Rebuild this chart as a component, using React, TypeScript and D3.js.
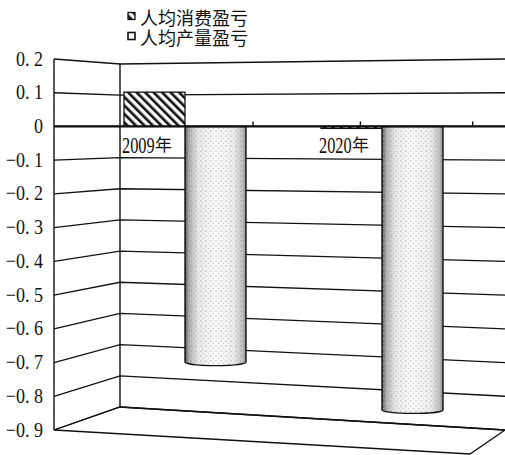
import React from "react";
import * as d3 from "d3";

const categories = ["2009", "2020"];
const seriesNames = ["人均消费盈亏", "人均产量盈亏"];
const consumption = [0.104, -0.006];
const production = [-0.715, -0.86];
const yTicks = [0.2, 0.1, 0, -0.1, -0.2, -0.3, -0.4, -0.5, -0.6, -0.7, -0.8, -0.9];
const axisTickSteps = [0.655, 1.2, 1.77];

const W = 505;
const H = 455;
const FX = 54;
const BX = 120;
const RX = 505;
const FLOOR_FRONT: [number, number] = [470, 454];

const SERIF = "Liberation Serif, Times New Roman, DejaVu Serif, serif";
const CJK = "Noto Sans CJK SC, Noto Sans CJK JP, sans-serif";

const fmt = (v: number) => {
  if (Math.abs(v) < 1e-9) return "0";
  const d = Math.round(Math.abs(v) * 10);
  return (v < 0 ? "\u2212" : "") + "0. " + d;
};

export default function App() {
  const domain = [-0.9, 0.2];
  const yFront = d3.scaleLinear().domain(domain).range([430, 59]);
  const yBack = d3.scaleLinear().domain(domain).range([407, 64]);
  const yBar = (v: number) => 0.7 * yFront(v) + 0.3 * yBack(v);
  const x = d3.scaleBand<string>().domain(categories).range([124, 518]);
  const xs = d3.scaleBand<string>().domain(seriesNames).range([0, 122]);
  const bw = xs.bandwidth();
  const y0 = yBar(0);
  const line = d3.line();

  const top = domain[1];
  const bottom = domain[0];

  const cylinder = (cx0: number, v: number) => {
    const x0 = cx0;
    const x1 = cx0 + bw;
    const rx = bw / 2;
    const ry = 3.5;
    const yb = yBar(v);
    return `M${x0},${y0} L${x0},${yb} A${rx},${ry} 0 0 0 ${x1},${yb} L${x1},${y0} Z`;
  };

  return (
    <svg
      width={W}
      height={H}
      style={{ position: "absolute", left: 0, top: 0, background: "#fff" }}
    >
      <defs>
        <pattern id="hatch" patternUnits="userSpaceOnUse" width="6" height="6" patternTransform="rotate(-45)">
          <rect width="6" height="6" fill="#fff" />
          <rect x="0" y="0" width="2.6" height="6" fill="#111" />
        </pattern>
        <pattern id="dots" patternUnits="userSpaceOnUse" width="5" height="5">
          <circle cx="1" cy="1" r="0.6" fill="#8a8a8a" />
          <circle cx="3.5" cy="3.5" r="0.5" fill="#b5b5b5" />
        </pattern>
        <linearGradient id="cyl" x1="0" x2="1" y1="0" y2="0">
          <stop offset="0" stopColor="#555" />
          <stop offset="0.07" stopColor="#b0b0b0" />
          <stop offset="0.22" stopColor="#e8e8e8" />
          <stop offset="0.5" stopColor="#fafafa" />
          <stop offset="0.8" stopColor="#ececec" />
          <stop offset="0.94" stopColor="#c0c0c0" />
          <stop offset="1" stopColor="#8a8a8a" />
        </linearGradient>
      </defs>

      {/* floor */}
      <path
        d={`M${FX},${yFront(bottom)} L${BX},${yBack(bottom)} L${RX},${yFront(bottom)} L${FLOOR_FRONT[0]},${FLOOR_FRONT[1]} Z`}
        fill="#fff"
        stroke="#111"
        strokeWidth={1.3}
      />

      {/* gridlines on left and back walls */}
      {yTicks.map((v) => (
        <path
          key={"g" + v}
          d={line([
            [FX, yFront(v)],
            [BX, yBack(v)],
            [RX, yFront(v)],
          ]) as string}
          fill="none"
          stroke="#111"
          strokeWidth={1.3}
        />
      ))}

      {/* wall edges */}
      <line x1={FX} x2={FX} y1={yFront(top)} y2={yFront(bottom)} stroke="#111" strokeWidth={1.4} />
      <line x1={BX} x2={BX} y1={yBack(top)} y2={yBack(bottom)} stroke="#111" strokeWidth={1.4} />

      {/* y labels */}
      {yTicks.map((v) => (
        <g key={"l" + v} transform={`translate(43,${yFront(v) + 6.5}) scale(0.86,1)`}>
          <text textAnchor="end" style={{ fontFamily: SERIF, fontSize: "21px" }} fill="#111">
            {fmt(v)}
          </text>
        </g>
      ))}

      {/* category labels */}
      {categories.map((c) => {
        const lx = (x(c) as number) - 2;
        return (
          <g key={"c" + c}>
            <g transform={`translate(${lx},${y0 + 27}) scale(0.68,1)`}>
              <text style={{ fontFamily: SERIF, fontSize: "24px" }} fill="#111">
                {c}
              </text>
            </g>
            <text x={lx + 33} y={y0 + 25} style={{ fontFamily: CJK, fontSize: "17px" }} fill="#111">
              年
            </text>
          </g>
        );
      })}

      {/* consumption bars (hatched) */}
      {categories.map((c, i) => {
        const bx = (x(c) as number) + (xs(seriesNames[0]) as number);
        const v = consumption[i];
        const ya = Math.min(yBar(v), y0);
        const h = Math.max(Math.abs(yBar(v) - y0), 1.5);
        return (
          <rect
            key={"b0" + c}
            x={bx}
            y={ya}
            width={bw}
            height={h}
            fill="url(#hatch)"
            stroke="#111"
            strokeWidth={1.3}
          />
        );
      })}

      {/* production bars (cylinders) */}
      {categories.map((c, i) => {
        const bx = (x(c) as number) + (xs(seriesNames[1]) as number);
        const d = cylinder(bx, production[i]);
        return (
          <g key={"b1" + c}>
            <path d={d} fill="url(#cyl)" />
            <path d={d} fill="url(#dots)" stroke="#111" strokeWidth={1.4} />
          </g>
        );
      })}

      {/* zero axis */}
      <line x1={FX} x2={RX} y1={y0} y2={y0} stroke="#111" strokeWidth={2.2} />
      {axisTickSteps.map((s) => {
        const tx = x.range()[0] + s * x.step();
        return <line key={"t" + s} x1={tx} x2={tx} y1={y0} y2={y0 - 5} stroke="#111" strokeWidth={1.4} />;
      })}

      {/* legend */}
      <g>
        <rect x={128} y={12.5} width={7} height={7} fill="url(#hatch)" stroke="#111" strokeWidth={1.3} />
        <text x={140} y={16.5} dominantBaseline="central" style={{ fontFamily: CJK, fontSize: "18px" }} fill="#111">
          {seriesNames[0]}
        </text>
        <rect x={128} y={32.5} width={7} height={7} fill="#fff" stroke="#111" strokeWidth={1.6} />
        <text x={140} y={36.5} dominantBaseline="central" style={{ fontFamily: CJK, fontSize: "18px" }} fill="#111">
          {seriesNames[1]}
        </text>
      </g>
    </svg>
  );
}
